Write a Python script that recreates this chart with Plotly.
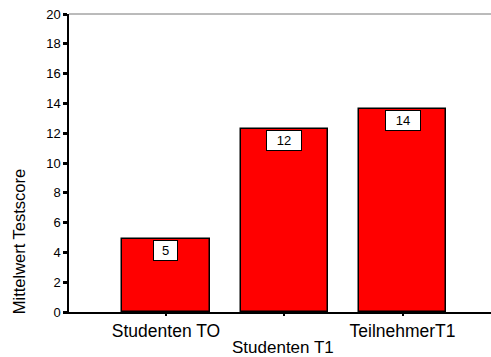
import plotly.graph_objects as go

categories = ["Studenten TO", "Teilnehmer T0", "TeilnehmerT1"]
tick_labels = ["Studenten TO", "", "TeilnehmerT1"]
means = [4.88, 12.28, 13.6]
value_labels = ["5", "12", "14"]

x_pos = list(range(len(categories)))

fig = go.Figure()
fig.add_trace(go.Bar(
    x=x_pos, y=means, width=0.74,
    marker=dict(color="#FF0000", line=dict(color="black", width=1.5)),
    hoverinfo="skip", showlegend=False,
))

for xi, yi, lab in zip(x_pos, means, value_labels):
    fig.add_annotation(
        x=xi, y=yi, xref="x", yref="y", text=lab, showarrow=False,
        yanchor="top", xanchor="center", yshift=-1,
        font=dict(family="Liberation Sans, Arial", size=13, color="black"),
        bgcolor="white", bordercolor="black", borderwidth=1, borderpad=0,
        width=12 + 11 * len(lab), height=19,
    )

fig.add_annotation(
    xref="paper", yref="paper", x=-0.118, y=0.238, text="Mittelwert Testscore",
    textangle=-90, showarrow=False, xanchor="center", yanchor="middle",
    font=dict(family="Liberation Sans, Arial", size=16.5, color="black"),
)
fig.add_annotation(
    xref="paper", yref="paper", x=0.507, y=-0.118, text="Studenten T1",
    showarrow=False, xanchor="center", yanchor="middle",
    font=dict(family="Liberation Sans, Arial", size=17, color="black"),
)

fig.add_shape(type="line", xref="paper", yref="paper", x0=0, x1=1, y0=1, y1=1,
              line=dict(color="#777777", width=1))

fig.update_layout(
    width=491, height=357,
    margin=dict(l=69, r=0, t=14, b=45),
    paper_bgcolor="white", plot_bgcolor="white",
    font=dict(family="Liberation Sans, Arial", color="black"),
    bargap=0,
    xaxis=dict(
        range=[-0.82, 2.748], tickvals=x_pos, ticktext=tick_labels,
        showgrid=False, zeroline=False, showline=True, linecolor="black", linewidth=1.5,
        ticks="outside", ticklen=2, tickwidth=2, tickcolor="black",
        tickfont=dict(size=17.5, color="black"), fixedrange=True,
    ),
    yaxis=dict(
        range=[0, 20], tickvals=list(range(0, 21, 2)),
        showgrid=False, zeroline=False, showline=True, linecolor="black", linewidth=1.5,
        ticks="outside", ticklen=4, tickwidth=3, tickcolor="black",
        tickfont=dict(size=13, color="black"), fixedrange=True,
    ),
)

fig.write_html("out.html")
